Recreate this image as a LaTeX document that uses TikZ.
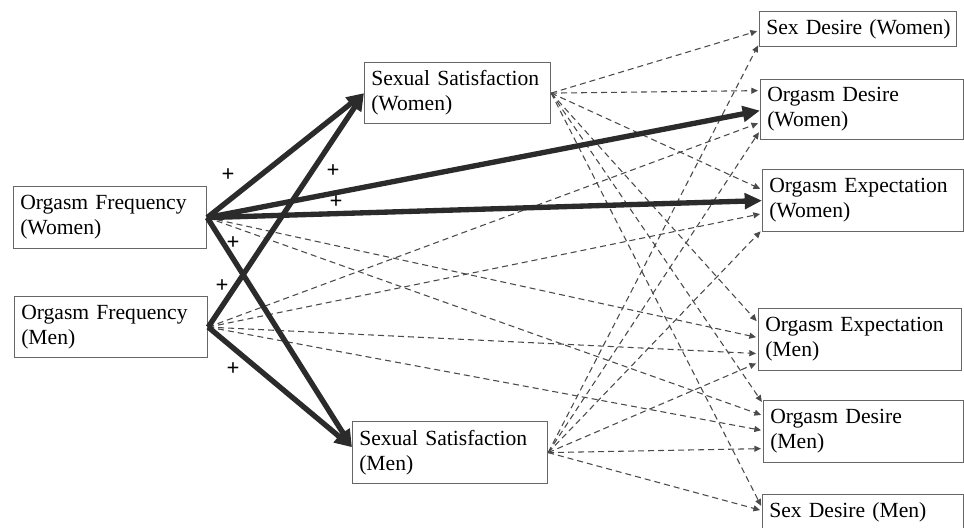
\documentclass[tikz,border=0pt]{standalone}
\usepackage{fontspec}
\setmainfont{Liberation Serif}
\usetikzlibrary{arrows.meta}
\definecolor{boxgray}{HTML}{666666}
\definecolor{linedark}{HTML}{2B2B2B}
\definecolor{linegray}{HTML}{4A4A4A}
\begin{document}
\begin{tikzpicture}[x=0.75pt,y=-0.75pt,
  box/.style={draw=boxgray, line width=0.9pt, rectangle, anchor=north west,
    inner xsep=5pt, inner ysep=0pt, align=left, text=black,
    font=\fontsize{16.2}{18.8}\selectfont},
  strong/.style={draw=linedark, line width=4pt,
    -{Triangle[length=13pt,width=11.5pt]}},
  weak/.style={draw=linegray, line width=0.8pt, dash pattern=on 4.5pt off 3pt,
    -{Triangle[length=5pt,width=4.5pt]}, shorten >=1.5pt},
  plus/.style={font=\bfseries\fontsize{17}{17}\selectfont, inner sep=0pt}]
\useasboundingbox (0,0) rectangle (964,528);
% nodes
\node[box, text width=134.75pt, minimum height=46.5pt] (OFW) at (13,186) {Orgasm Frequency\\(Women)};
\node[box, text width=134.75pt, minimum height=45.75pt] (OFM) at (14,296) {Orgasm Frequency\\(Men)};
\node[box, text width=129.5pt, minimum height=45.75pt] (SSW) at (364,62) {Sexual Satisfaction\\(Women)};
\node[box, text width=136.25pt, minimum height=46.5pt] (SSM) at (352,421) {Sexual Satisfaction\\(Men)};
\node[box, text width=137.75pt, minimum height=26.25pt] (SDW) at (759,11) {\mbox{Sex Desire (Women)}};
\node[box, text width=142.25pt, minimum height=45pt] (ODW) at (760,79) {Orgasm Desire\\(Women)};
\node[box, text width=140.75pt, minimum height=46.5pt] (OEW) at (762,169) {Orgasm Expectation\\(Women)};
\node[box, text width=142.25pt, minimum height=46.5pt] (OEM) at (758,308) {Orgasm Expectation\\(Men)};
\node[box, text width=140pt, minimum height=46.5pt] (ODM) at (763,400) {Orgasm Desire\\(Men)};
\node[box, text width=140.75pt, minimum height=27pt] (SDM) at (762,494) {Sex Desire (Men)};
% dashed paths
\draw[weak] (OFW.east) -- ([yshift=1.5pt]OEM.west);
\draw[weak] (OFW.east) -- ([yshift=12pt]ODM.west);
\draw[weak] (OFM.east) -- ([yshift=-9.75pt]ODW.west);
\draw[weak] (OFM.east) -- ([yshift=-9.75pt]OEW.west);
\draw[weak] (OFM.east) -- ([yshift=-10.5pt]OEM.west);
\draw[weak] (OFM.east) -- ([yshift=0.75pt]ODM.west);
\draw[weak] (SSW.east) -- ([yshift=-1.1pt]SDW.west);
\draw[weak] (SSW.east) -- ([yshift=14.25pt]ODW.west);
\draw[weak] (SSW.east) -- ([yshift=8.25pt]OEW.west);
\draw[weak] (SSW.east) -- ([yshift=12.75pt]OEM.west);
\draw[weak] (SSW.east) -- ([yshift=21pt]ODM.west);
\draw[weak] (SSW.east) -- ([yshift=3.75pt]SDM.west);
\draw[weak] (SSM.east) -- ([yshift=-10.9pt]SDW.west);
\draw[weak] (SSM.east) -- ([yshift=-15.75pt]ODW.west);
\draw[weak] (SSM.east) -- ([yshift=-22pt]OEW.west);
\draw[weak] (SSM.east) -- ([yshift=-17.25pt]OEM.west);
\draw[weak] (SSM.east) -- ([yshift=-12.75pt]ODM.west);
\draw[weak] (SSM.east) -- ([yshift=1.5pt]SDM.west);
% strong paths
\draw[strong] (OFW.east) -- (SSW.west);
\draw[strong] (OFM.east) -- (SSW.west);
\draw[strong] (OFW.east) -- ([yshift=4pt]SSM.west);
\draw[strong] (OFM.east) -- ([yshift=4pt]SSM.west);
\draw[strong] (OFW.east) -- ([yshift=-0.75pt]ODW.west);
\draw[strong] (OFW.east) -- (OEW.west);
% labels
\node[plus] (p1) at (228,175) {+};
\node[plus] (p2) at (333,171) {+};
\node[plus] (p3) at (336,202) {+};
\node[plus] (p4) at (233,243) {+};
\node[plus] (p5) at (222,286) {+};
\node[plus] (p6) at (233,369) {+};
\end{tikzpicture}
\end{document}
